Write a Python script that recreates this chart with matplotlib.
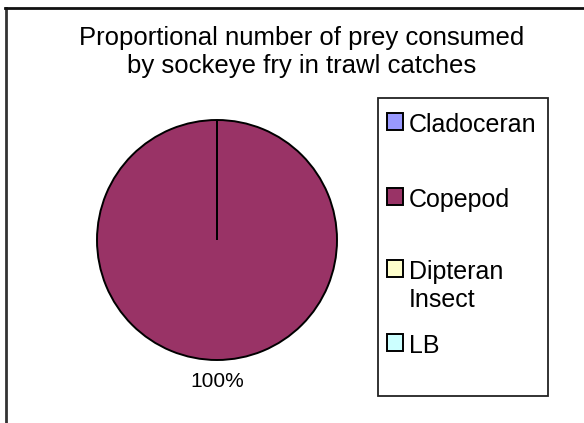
import matplotlib.pyplot as plt
from matplotlib.patches import Rectangle
from matplotlib.lines import Line2D

plt.rcParams['font.family'] = ['Liberation Sans', 'DejaVu Sans']

# prey groups and their share of the diet (percent)
prey = ['Cladoceran', 'Copepod', 'Dipteran\nInsect', 'LB']
share = [0, 100, 0, 0]
colours = ['#9999FF', '#993366', '#FFFFCC', '#CCFFFF']

W, H = 584, 423
fig = plt.figure(figsize=(W / 100, H / 100), dpi=100)

# chart area outline (only top and left edges fall inside the image)
fig.add_artist(Line2D([5.5 / W, 5.5 / W], [0, 1 - 8 / H], color='#333333', lw=2))
fig.add_artist(Line2D([5 / W, 1], [1 - 8 / H, 1 - 8 / H], color='#111111', lw=2))

fig.text(302 / W, 1 - 26 / H, 'Proportional number of prey consumed\nby sockeye fry in trawl catches',
         ha='center', va='top', fontsize=18.5, linespacing=1.2)

# pie: centre (217, 240) px, radius 120 px
cx, cy, r = 217, 240, 120
ax = fig.add_axes([(cx - r) / W, (H - cy - r) / H, 2 * r / W, 2 * r / H])
wedges, texts, autotexts = ax.pie(
    share, colors=colours, startangle=90, counterclock=False,
    autopct=lambda p: '%d%%' % round(p) if p > 0 else '',
    pctdistance=1.18,
    wedgeprops=dict(edgecolor='black', linewidth=1.4))
for t in autotexts:
    t.set_fontsize(15)
ax.set_xlim(-1, 1)
ax.set_ylim(-1, 1)
ax.set_aspect('auto')
ax.axis('off')

# legend box
bx0, by0, bx1, by1 = 378, 98, 548, 396
fig.add_artist(Rectangle((bx0 / W, 1 - by1 / H), (bx1 - bx0) / W, (by1 - by0) / H,
                         transform=fig.transFigure, facecolor='white',
                         edgecolor='#222222', lw=1.3))

# one legend per entry so every entry starts on the same pitch
row_top = [113, 188, 260, 334]
for w, name, top in zip(wedges, prey, row_top):
    leg = fig.legend([w], [name], loc='upper left',
                     bbox_to_anchor=(387 / W, 1 - top / H),
                     frameon=False, fontsize=18, handlelength=0.64, handleheight=0.64,
                     handletextpad=0.24, borderpad=0, borderaxespad=0)
    for col in leg._legend_handle_box.get_children():
        for row in col.get_children():
            row.align = 'top'

fig.savefig('out.png', dpi=100)
